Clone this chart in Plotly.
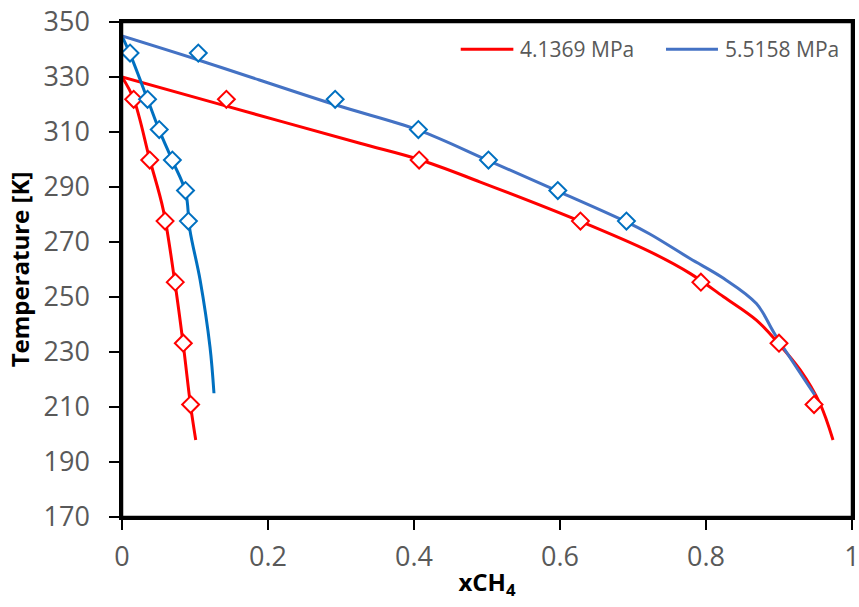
import plotly.graph_objects as go

# Model curves
red_liq_x = [0, 0.016, 0.038, 0.0566, 0.0726, 0.084, 0.094, 0.101]
red_liq_T = [330, 322, 300, 281.6, 255, 232.5, 210.4, 198]
red_vap_x = [0, 0.143, 0.326, 0.407, 0.49, 0.628, 0.723, 0.778, 0.824, 0.869, 0.899, 0.929, 0.956, 0.974]
red_vap_T = [330, 319.4, 305.9, 300, 291.9, 277.5, 266.5, 258.6, 250.1, 241.6, 233.2, 223.5, 211.3, 198]
blue_liq_x = [0, 0.011, 0.035, 0.051, 0.069, 0.087, 0.093, 0.107, 0.1205, 0.126]
blue_liq_T = [344.9, 338.4, 321.9, 310.7, 299.6, 288.3, 274.4, 256.2, 231.9, 215]
blue_vap_x = [0, 0.1045, 0.292, 0.406, 0.502, 0.597, 0.691, 0.723, 0.778, 0.824, 0.869, 0.895, 0.949]
blue_vap_T = [344.9, 336.2, 319.9, 310.7, 299.6, 288.5, 277.3, 272.9, 264, 256.8, 247.6, 236.2, 214.4]

# Experimental points
red_pts_x = [0.016, 0.038, 0.059, 0.073, 0.084, 0.094, 0.143, 0.407, 0.628, 0.793, 0.900, 0.948]
red_pts_T = [321.9, 299.8, 277.6, 255.4, 233.2, 210.9, 321.9, 299.8, 277.6, 255.4, 233.2, 210.9]
blue_pts_x = [0.011, 0.035, 0.051, 0.069, 0.087, 0.091, 0.1045, 0.292, 0.406, 0.502, 0.597, 0.691]
blue_pts_T = [338.7, 321.9, 310.9, 299.8, 288.7, 277.6, 338.7, 321.9, 310.9, 299.8, 288.7, 277.6]

series_names = ["4.1369 MPa", "5.5158 MPa"]

RED = "#FF0000"
BLUE_LINE = "#4472C4"
BLUE_MK = "#0070C0"
FONT = "Open Sans, sans-serif"

fig = go.Figure()
fig.add_trace(go.Scatter(x=red_liq_x, y=red_liq_T, mode="lines", line=dict(color=RED, width=3, shape="spline"),
                         name=series_names[0], showlegend=False))
fig.add_trace(go.Scatter(x=red_vap_x, y=red_vap_T, mode="lines", line=dict(color=RED, width=3, shape="spline"),
                         showlegend=False))
fig.add_trace(go.Scatter(x=blue_liq_x, y=blue_liq_T, mode="lines", line=dict(color=BLUE_MK, width=3, shape="spline"),
                         showlegend=False))
fig.add_trace(go.Scatter(x=blue_vap_x, y=blue_vap_T, mode="lines", line=dict(color=BLUE_LINE, width=3, shape="spline"),
                         name=series_names[1], showlegend=False))
fig.add_trace(go.Scatter(x=red_pts_x, y=red_pts_T, mode="markers",
                         marker=dict(symbol="diamond", size=13, color="white", line=dict(color=RED, width=2)),
                         showlegend=False))
fig.add_trace(go.Scatter(x=blue_pts_x, y=blue_pts_T, mode="markers",
                         marker=dict(symbol="diamond", size=13, color="white", line=dict(color=BLUE_MK, width=2)),
                         showlegend=False))

# Plot-area border
fig.add_shape(type="rect", xref="paper", yref="paper", x0=0, x1=1, y0=0, y1=1,
              line=dict(color="black", width=2.5), layer="above")

# Legend drawn in paper coordinates (Excel-style long line samples)
leg_y = 0.9448
legend_items = [(0.4640, 0.5361, 0.5426, RED, series_names[0]),
                (0.7452, 0.8164, 0.8233, BLUE_LINE, series_names[1])]
for x0, x1, xt, col, name in legend_items:
    fig.add_shape(type="line", xref="paper", yref="paper", x0=x0, x1=x1, y0=leg_y, y1=leg_y,
                  line=dict(color=col, width=3))
    fig.add_annotation(xref="paper", yref="paper", x=xt, y=leg_y, xanchor="left", yanchor="middle",
                       text=name, showarrow=False, font=dict(family=FONT, size=21, color="#595959"))

fig.update_layout(
    width=859, height=607,
    margin=dict(l=122, r=7, t=22, b=90, autoexpand=False),
    paper_bgcolor="white", plot_bgcolor="white",
    font=dict(family=FONT, color="#595959"),
    showlegend=False,
)
fig.update_xaxes(range=[0, 1], dtick=0.2, tick0=0, showgrid=False, zeroline=False,
                 showline=True, linecolor="black", linewidth=2.5, mirror=True,
                 ticks="outside", ticklen=10, tickwidth=2, tickcolor="black",
                 tickfont=dict(family=FONT, size=27, color="#595959"), ticklabelstandoff=4,
                 ticklabeloverflow="allow", automargin=False,
                 title=dict(text="<b>xCH<sub>4</sub></b>", font=dict(family=FONT, size=24, color="black"), standoff=2))
fig.update_yaxes(range=[170, 350], dtick=20, tick0=170, showgrid=False, zeroline=False,
                 showline=True, linecolor="black", linewidth=2.5, mirror=True,
                 ticks="outside", ticklen=10, tickwidth=2, tickcolor="black",
                 tickfont=dict(family=FONT, size=27, color="#595959"), ticklabelstandoff=14,
                 ticklabeloverflow="allow", automargin=False,
                 title=dict(text="<b>Temperature [K]</b>", font=dict(family=FONT, size=24, color="black"), standoff=8))

fig.write_html("out.html", config={"displayModeBar": False},
               post_script="document.body.style.margin='0px';document.body.style.overflow='hidden';")
